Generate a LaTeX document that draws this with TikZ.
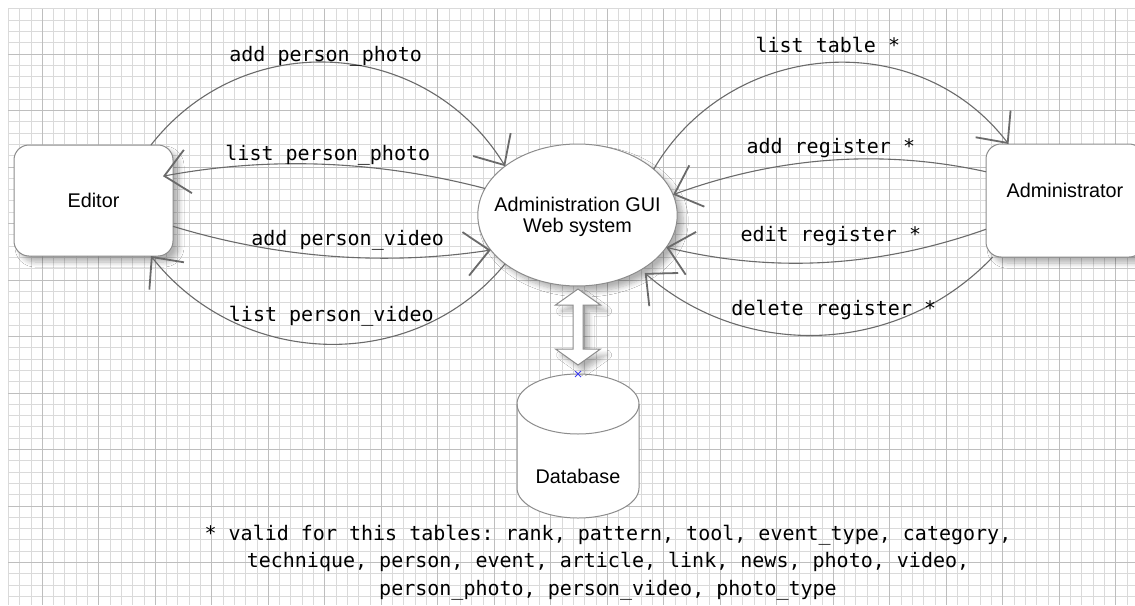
\documentclass[tikz,border=0pt]{standalone}
\usepackage{fontspec}
\setmainfont{Liberation Sans}
\newfontfamily\codefont{DejaVu Sans Mono}
\usetikzlibrary{arrows.meta,shapes.geometric,shadows.blur,calc}

\definecolor{gridminor}{HTML}{DADADA}
\definecolor{gridmajor}{HTML}{BEBEBE}
\definecolor{edgegray}{HTML}{6A6A6A}
\definecolor{bordergray}{HTML}{8C8C8C}
\definecolor{markerblue}{HTML}{4040F0}

\begin{document}
\begin{tikzpicture}[x=0.5pt, y=-0.5pt,
  minorline/.style={draw=gridminor, line width=0.5pt},
  majorline/.style={draw=gridmajor, line width=0.5pt},
  softshadow/.style={blur shadow={shadow xshift=3pt, shadow yshift=-3pt, shadow blur radius=2.5pt, shadow blur steps=8, shadow opacity=30}},
  roundbox/.style={draw=bordergray, line width=0.5pt, fill=white, rounded corners=7.5pt, inner sep=0pt, outer sep=0pt, softshadow},
  oval/.style={ellipse, draw=bordergray, line width=0.5pt, fill=white, inner sep=0pt, outer sep=0pt, softshadow},
  sanstext/.style={font=\fontsize{9.9}{10.5}\selectfont, inner sep=0pt, text=black},
  codelabel/.style={font=\codefont\frenchspacing\fontsize{10}{12}\selectfont, anchor=base, inner sep=0pt, text=black},
  conn/.style={draw=edgegray, line width=0.55pt, -{Straight Barb[length=12pt, width=22pt, line width=0.9pt]}},
  fatarrow/.style={draw=bordergray, line width=0.5pt, fill=white, softshadow},
  dbshape/.style={draw=bordergray, line width=0.5pt, fill=white},
]

% page area and background
\useasboundingbox (0,0) rectangle (1135,605);
\clip (0,0) rectangle (1135,605);
\fill[white] (0,0) rectangle (1135,605);

% graph paper
\foreach \i in {0,...,99}
  \draw[minorline] ({8.4+11.3*\i},8.8) -- ({8.4+11.3*\i},605);
\foreach \j in {0,...,52}
  \draw[minorline] (8.4,{8.8+11.3*\j}) -- (1135,{8.8+11.3*\j});
\foreach \i in {0,...,19}
  \draw[majorline] ({42.3+56.5*\i},8.8) -- ({42.3+56.5*\i},605);
\foreach \j in {0,...,9}
  \draw[majorline] (8.4,{54+56.5*\j}) -- (1135,{54+56.5*\j});

% actors and system
\node[roundbox, minimum width=79.5pt, minimum height=55.5pt, sanstext] (ed) at (93.5,200.5) {Editor};
\node[roundbox, minimum width=79pt, minimum height=56.5pt] (ad) at (1065,200.5) {};
\node[sanstext] (adtext) at (1065,190) {Administrator};
\node[oval, minimum width=99.7pt, minimum height=71pt] (gui) at (577.5,215) {};
\node[sanstext, align=center] (guitext) at (577.5,217) {Administration GUI\\Web system};

% database cylinder
\node[inner sep=0pt, outer sep=0pt, minimum width=61pt, minimum height=72pt] (db) at (578,446) {};
\path[dbshape] ($(db.north west)+(0,30)$) -- ($(db.south west)+(0,-30)$)
  arc[start angle=180, end angle=360, x radius=30.5pt, y radius=15pt]
  -- ($(db.north east)+(0,30)$)
  arc[start angle=0, end angle=180, x radius=30.5pt, y radius=15pt] -- cycle;
\draw[dbshape, fill=none] ($(db.north west)+(0,30)$)
  arc[start angle=180, end angle=360, x radius=30.5pt, y radius=15pt];
\node[sanstext] (dbtext) at (578,476) {Database};

% two-way link between the system and the database
\coordinate (dtop) at ($(gui.south)+(0.5,3)$);
\path[fatarrow] (dtop) -- ++(22.5,16) -- ++(-17.5,0) -- ++(0,44) -- ++(17.5,0)
  -- ++(-22.5,16) -- ++(-22.5,-16) -- ++(17.5,0) -- ++(0,-44) -- ++(-17.5,0) -- cycle;
\draw[markerblue, line width=0.5pt] ($(db.north)+(-3,-3)$) -- ($(db.north)+(3,3)$)
  ($(db.north)+(-3,3)$) -- ($(db.north)+(3,-3)$);

% editor flows
\draw[conn] (ed.44) .. controls +(93,-119) and +(-79,-129) .. (gui.146);
\draw[conn] (gui.164) .. controls +(-107,-28) and +(107,-20) .. ([xshift=-5pt]ed.17);
\draw[conn] (ed.-18.4) .. controls +(105,32) and +(-105,16) .. (gui.202);
\draw[conn] (gui.214) .. controls +(-91.5,111.5) and +(89,113) .. (ed.-44);

% administrator flows
\draw[conn] (gui.31) .. controls +(76,-130) and +(-91.5,-119.5) .. (ad.135.8);
\draw[conn] (ad.160) .. controls +(-104,-23) and +(104,-38) .. (gui.12);
\draw[conn] (ad.200) .. controls +(-107,38) and +(107,26) .. (gui.-20);
\draw[conn] (ad.218) .. controls +(-93,98) and +(101.7,88.8) .. ([shift={(4,3)}]gui.-41);

% flow labels
\node[codelabel] (l1) at (325.7,61.5) {add person\_photo};
\node[codelabel] (l2) at (327.8,160.5) {list person\_photo};
\node[codelabel] (l3) at (347.7,245) {add person\_video};
\node[codelabel] (l4) at (331.3,321.5) {list person\_video};
\node[codelabel] (r1) at (827.8,52.3) {list table *};
\node[codelabel] (r2) at (830.8,153.3) {add register *};
\node[codelabel] (r3) at (830.8,241.7) {edit register *};
\node[codelabel] (r4) at (833.8,315.7) {delete register *};

% footnote
\node[font=\codefont\frenchspacing\fontsize{10}{13.75}\selectfont, align=center, inner sep=0pt, text=black] (note) at (608,562.5)
  {* valid for this tables: rank, pattern, tool, event\_type, category,\\
   technique, person, event, article, link, news, photo, video,\\
   person\_photo, person\_video, photo\_type};

\end{tikzpicture}
\end{document}
